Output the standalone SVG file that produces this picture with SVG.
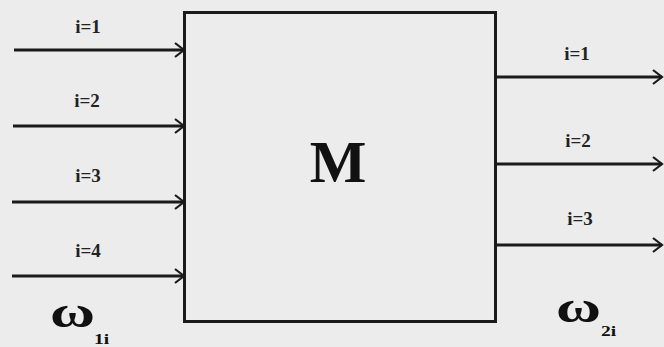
<svg xmlns="http://www.w3.org/2000/svg" width="664" height="347" viewBox="0 0 664 347">
<defs>
<marker id="arr" markerWidth="12" markerHeight="16" refX="10" refY="8" orient="auto" markerUnits="userSpaceOnUse">
<path d="M1,1 L10,8 L1,15" fill="none" stroke="#1a1a1a" stroke-width="2.2"/>
</marker>
</defs>
<style>
.ln{stroke:#1a1a1a;stroke-width:2.8;fill:none;marker-end:url(#arr)}
.lbl{font-family:"Liberation Serif","DejaVu Serif",serif;font-weight:bold;font-size:19px;fill:#222;text-anchor:middle}
.om{font-family:"Liberation Serif","DejaVu Serif",serif;font-weight:bold;font-size:44px;fill:#111}
.sub{font-family:"Liberation Serif","DejaVu Serif",serif;font-weight:bold;font-size:15px;fill:#111}
</style>
<rect width="664" height="347" fill="#ececec"/>
<g id="M">
<rect x="184.5" y="12.5" width="311" height="309" fill="none" stroke="#1a1a1a" stroke-width="3"/>
<text x="338" y="182" text-anchor="middle" font-family="Liberation Serif, DejaVu Serif, serif" font-weight="bold" font-size="60" fill="#111">M</text>
</g>
<g id="connectors">
<line class="ln" x1="14" y1="50" x2="184" y2="50"/>
<line class="ln" x1="13" y1="126" x2="184" y2="126"/>
<line class="ln" x1="12" y1="202" x2="184" y2="202"/>
<line class="ln" x1="12" y1="276" x2="184" y2="276"/>
<line class="ln" x1="497" y1="77" x2="662" y2="77"/>
<line class="ln" x1="497" y1="164" x2="662" y2="164"/>
<line class="ln" x1="497" y1="245" x2="662" y2="245"/>
</g>
<g id="labels">
<text class="lbl" x="88" y="33">i=1</text>
<text class="lbl" x="87" y="107">i=2</text>
<text class="lbl" x="88" y="182">i=3</text>
<text class="lbl" x="88" y="257">i=4</text>
<text class="lbl" x="577" y="60">i=1</text>
<text class="lbl" x="578" y="147">i=2</text>
<text class="lbl" x="580" y="225">i=3</text>
</g>
<g id="omega1">
<text class="om" transform="translate(50,327) scale(1.4,1)">ω</text>
<text class="sub" transform="translate(94,344) scale(1.3,1)">1i</text>
</g>
<g id="omega2">
<text class="om" transform="translate(556,322) scale(1.4,1)">ω</text>
<text class="sub" transform="translate(601,336) scale(1.3,1)">2i</text>
</g>
</svg>
